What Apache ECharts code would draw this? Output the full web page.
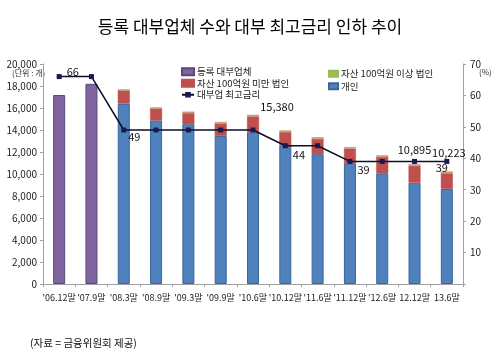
<!DOCTYPE html>
<html><head><meta charset="utf-8">
<script src="https://cdn.jsdelivr.net/npm/echarts@6/dist/echarts.min.js"></script>
<style>html,body{margin:0;padding:0;background:#fff}#c{width:500px;height:360px}</style>
</head><body><div id="c"></div>
<script>
var categories = ["'06.12말","'07.9말","'08.3말","'08.9말","'09.3말","'09.9말","'10.6말","'10.12말","'11.6말","'11.12말","'12.6말","12.12말","13.6말"];
var registered = [17180, 18197, '-', '-', '-', '-', '-', '-', '-', '-', '-', '-', '-'];
var individual = ['-', '-', 16400, 14870, 14520, 13450, 13790, 12600, 11800, 10970, 10060, 9210, 8640];
var smallCorp = ['-', '-', 1180, 1060, 1010, 1140, 1440, 1210, 1390, 1330, 1490, 1530, 1420];
var largeCorp = ['-', '-', 120, 130, 140, 140, 150, 150, 150, 150, 150, 155, 163];
var labelTotals = {6: 15380, 11: 10895, 12: 10223};
var maxRate = [66, 66, 49, 49, 49, 49, 49, 44, 44, 39, 39, 39, 39];
var leftTicks = {min: 0, max: 20000, interval: 2000};
var rightTicks = {min: 0, max: 70, interval: 10};

var FONT = '"Noto Sans CJK KR", "Noto Sans", sans-serif';
var fmt = function(v){ return String(v).replace(/\B(?=(\d{3})+(?!\d))/g, ','); };

var totalLabelOffset = {6: [24, 2], 11: [0, -4], 12: [2, -8]};
var largeData = largeCorp.map(function(v, i){
  var item = {value: v};
  if (labelTotals[i] !== undefined) {
    item.label = {show: true, position: 'top', offset: totalLabelOffset[i],
      formatter: fmt(labelTotals[i]), fontSize: 11, color: '#111', fontFamily: FONT};
  }
  return item;
});
var rateLabelCfg = {
  0: {position: 'right', offset: [0, -5]},
  2: {position: 'right', offset: [-3, 7]},
  7: {position: 'right', offset: [0, 9]},
  9: {position: 'right', offset: [0, 8]},
  12: {position: 'bottom', offset: [-5, -7]}
};
var rateData = maxRate.map(function(v, i){
  var item = {value: v};
  if (rateLabelCfg[i]) {
    item.label = {show: true, position: rateLabelCfg[i].position, offset: rateLabelCfg[i].offset,
      fontSize: 11, color: '#111', fontFamily: FONT};
  }
  return item;
});

var chart = echarts.init(document.getElementById('c'), null, {renderer: 'canvas'});
var barW = 12;
chart.setOption({
  animation: false,
  backgroundColor: '#fff',
  textStyle: {fontFamily: FONT},
  title: {text: '등록 대부업체 수와 대부 최고금리 인하 추이', left: 'center', top: 13,
    textStyle: {fontSize: 17, fontWeight: 'normal', color: '#000', fontFamily: FONT}},
  grid: {left: 43, right: 37, top: 64, bottom: 76, containLabel: false},
  legend: [{
    orient: 'vertical', left: 176, top: 62, itemWidth: 12, itemHeight: 7, itemGap: 2,
    textStyle: {fontSize: 9.5, color: '#222', fontFamily: FONT, padding: [0,0,0,-2]},
    data: [{name: '등록 대부업체', icon: 'rect'}, {name: '자산 100억원 미만 법인', icon: 'rect'}, '대부업 최고금리']
  }, {
    orient: 'vertical', left: 323, top: 64, itemWidth: 9, itemHeight: 6, itemGap: 3,
    textStyle: {fontSize: 9.5, color: '#222', fontFamily: FONT, padding: [0,0,0,-2]},
    data: [{name: '자산 100억원 이상 법인', icon: 'rect', itemStyle: {color: '#9bbb59', borderColor: '#9bbb59'}}, {name: '개인', icon: 'rect'}]
  }],
  xAxis: {type: 'category', data: categories,
    axisLine: {lineStyle: {color: '#a0a0a0'}},
    axisTick: {show: true, alignWithLabel: false, length: 3, lineStyle: {color: '#a0a0a0'}},
    axisLabel: {fontSize: 9, color: '#222', margin: 9, interval: 0, fontFamily: FONT}
  },
  yAxis: [{
    type: 'value', min: leftTicks.min, max: leftTicks.max, interval: leftTicks.interval,
    splitLine: {show: false},
    axisLine: {show: true, lineStyle: {color: '#a0a0a0'}},
    axisTick: {show: true, length: 3, lineStyle: {color: '#a0a0a0'}},
    axisLabel: {fontSize: 10, color: '#222', margin: 6, formatter: function(v){return fmt(v);}, fontFamily: FONT}
  }, {
    type: 'value', min: rightTicks.min, max: rightTicks.max, interval: rightTicks.interval,
    splitLine: {show: false},
    axisLine: {show: true, lineStyle: {color: '#a0a0a0'}},
    axisTick: {show: true, length: 3, lineStyle: {color: '#a0a0a0'}},
    axisLabel: {fontSize: 10, color: '#222', margin: 7, formatter: function(v){return v === 0 ? '' : String(v);}, fontFamily: FONT}
  }],
  series: [
    {name: '등록 대부업체', type: 'bar', stack: 's', barWidth: barW, data: registered,
      itemStyle: {color: '#8064a2', borderColor: '#5c4776', borderWidth: 1}},
    {name: '개인', type: 'bar', stack: 's', barWidth: barW, data: individual,
      itemStyle: {color: '#4f81bd', borderColor: '#3a6699', borderWidth: 1}},
    {name: '자산 100억원 미만 법인', type: 'bar', stack: 's', barWidth: barW, data: smallCorp,
      itemStyle: {color: '#c0504d', borderColor: '#c0504d', borderWidth: 0.5}},
    {name: '자산 100억원 이상 법인', type: 'bar', stack: 's', barWidth: barW, data: largeData,
      itemStyle: {color: '#c8a27a', borderColor: '#b98a63', borderWidth: 0.5}},
    {name: '대부업 최고금리', type: 'line', yAxisIndex: 1, data: rateData,
      symbol: 'rect', symbolSize: 5, z: 5,
      lineStyle: {color: '#0d0d2a', width: 1.5},
      itemStyle: {color: '#1a1a50'}}
  ],
  graphic: [
    {type: 'text', left: 12, top: 69, style: {text: '(단위 : 개)', fontSize: 8, fill: '#333', fontFamily: FONT}},
    {type: 'text', left: 479, top: 68, style: {text: '(%)', fontSize: 8, fill: '#333', fontFamily: FONT}},
    {type: 'text', left: 30, top: 338, style: {text: '(자료 = 금융위원회 제공)', fontSize: 10.5, fill: '#111', fontFamily: FONT}}
  ]
});
</script></body></html>
